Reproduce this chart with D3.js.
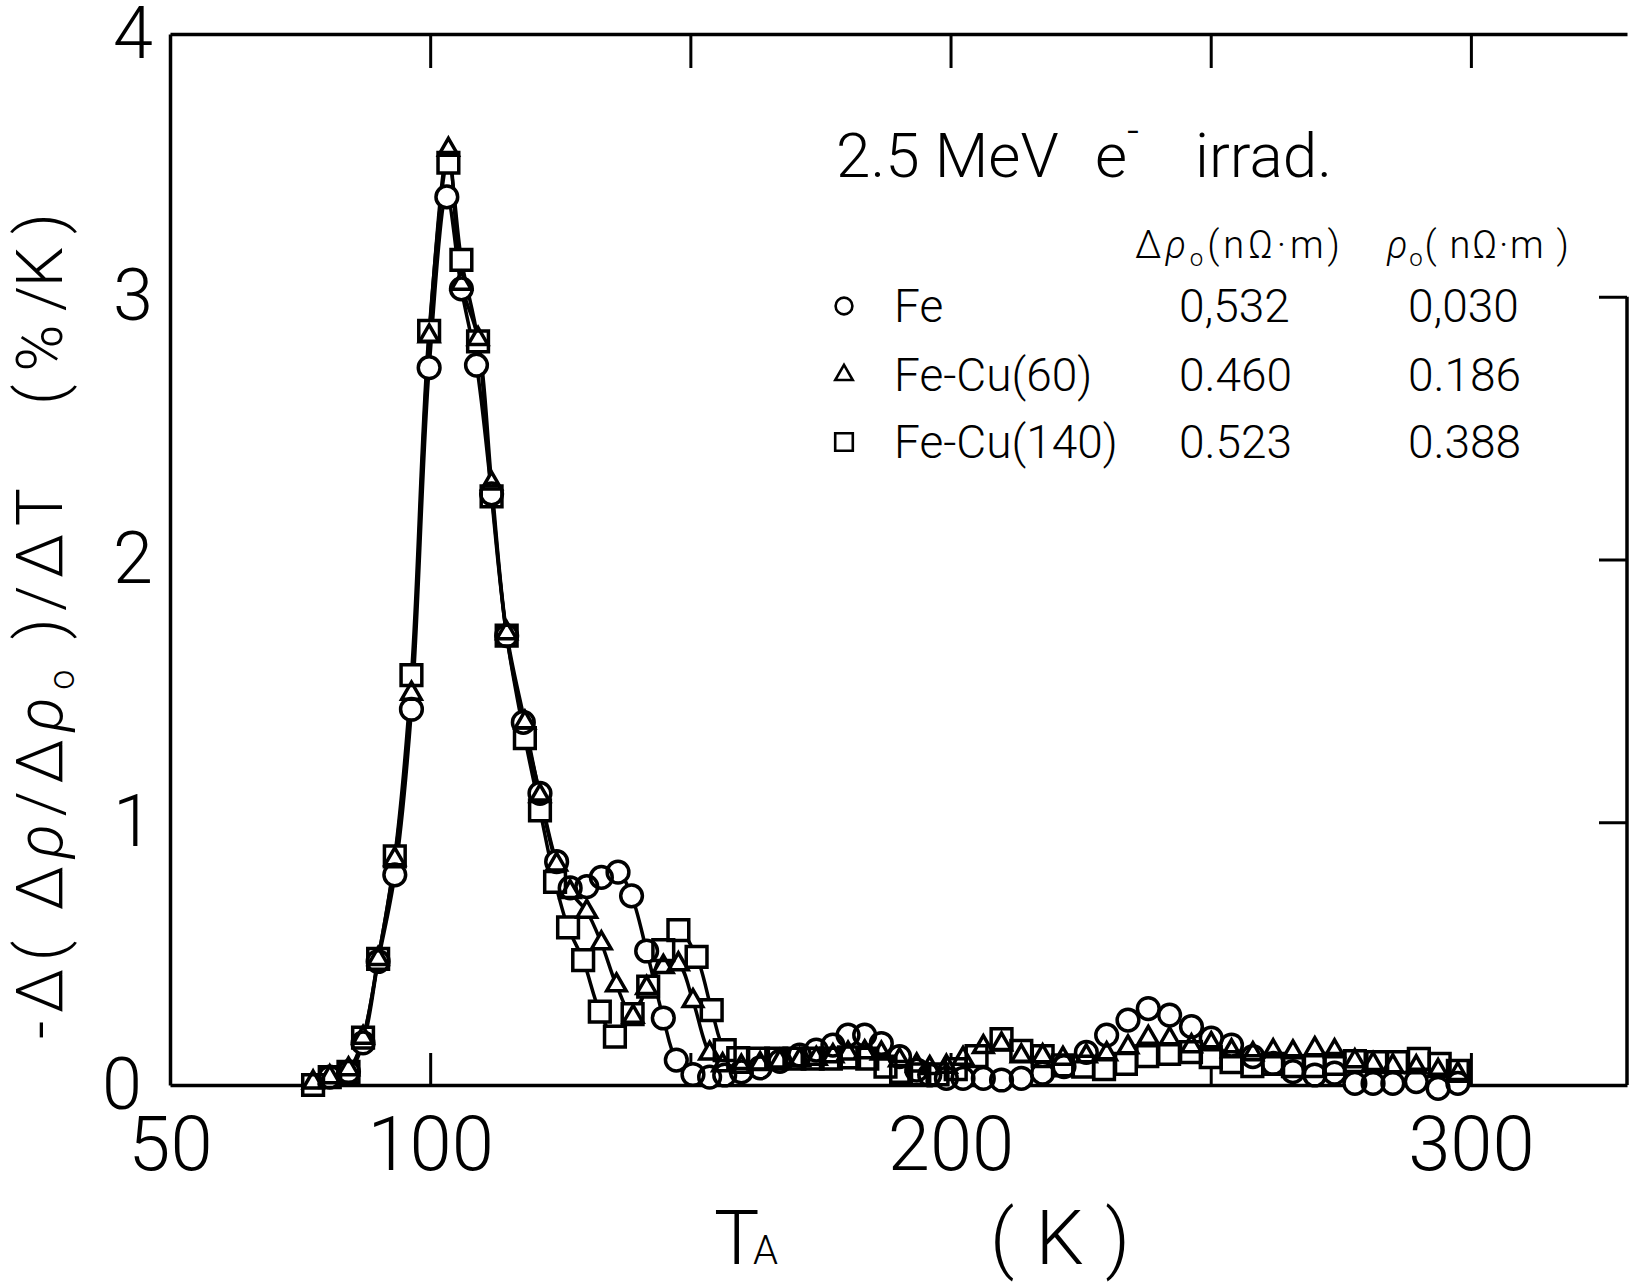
<!DOCTYPE html>
<html>
<head>
<meta charset="utf-8">
<script src="https://cdn.jsdelivr.net/npm/d3@7"></script>
<style>
  html, body { margin: 0; padding: 0; background: #fff; }
  svg { display: block; }
  text { font-family: Roboto, 'DejaVu Sans', sans-serif; font-weight: 300; fill: #000; }
</style>
</head>
<body>
<div id="chart"></div>
<script>
'use strict';

// values: annealing temperature T_A (K) and -d(dr/dr0)/dT (%/K)

/** Fe (circles) */
const feT = [80.7, 84.3, 87.1, 90.0, 93.2, 96.4, 99.8, 103.2, 106.0, 108.9, 111.8, 114.7, 117.9, 121.1, 124.3,
  126.9, 130.1, 132.9, 136.1, 138.7, 141.6, 144.8, 147.3, 150.5, 153.7, 156.6, 159.8, 163.4, 167.2, 171.0,
  174.2, 177.4, 180.3, 183.5, 186.7, 190.2, 193.5, 196.0, 199.2, 202.4, 206.3, 209.8, 213.6, 217.7, 221.8,
  226.1, 230.0, 234.1, 238.0, 242.1, 246.3, 250.1, 254.0, 258.1, 262.0, 265.8, 270.0, 273.8, 277.7, 281.2,
  285.0, 289.5, 293.7, 297.5];
const feV = [0.03, 0.05, 0.16, 0.47, 0.80, 1.43, 2.73, 3.38, 3.03, 2.74, 2.25, 1.71, 1.38, 1.11, 0.85,
  0.75, 0.755, 0.79, 0.81, 0.72, 0.51, 0.255, 0.095, 0.04, 0.03, 0.038, 0.05, 0.065, 0.09, 0.114,
  0.133, 0.152, 0.19, 0.19, 0.158, 0.108, 0.057, 0.038, 0.025, 0.025, 0.025, 0.019, 0.025, 0.045, 0.07,
  0.124, 0.19, 0.247, 0.291, 0.266, 0.222, 0.178, 0.152, 0.108, 0.082, 0.051, 0.038, 0.045, 0.006, 0.006,
  0.006, 0.013, -0.013, 0.006];

/** Fe-Cu(60) (triangles) */
const cu60T = [77.5, 80.7, 84.3, 87.1, 90.0, 93.2, 96.4, 99.8, 103.5, 106.0, 109.2, 111.8, 114.7, 118.2, 121.1,
  124.3, 126.9, 130.1, 132.9, 135.8, 139.0, 141.6, 144.8, 147.7, 150.5, 153.7, 156.2, 159.8, 163.4, 167.2,
  171.0, 174.2, 177.4, 180.3, 183.5, 186.7, 190.2, 193.5, 196.0, 199.2, 202.4, 206.3, 209.8, 213.6, 217.7,
  221.6, 226.1, 230.0, 234.1, 238.0, 242.1, 246.3, 250.1, 254.0, 258.1, 262.0, 265.8, 270.0, 273.8, 277.7,
  281.2, 285.0, 289.5, 293.7, 297.5];
const cu60V = [0.01, 0.03, 0.06, 0.18, 0.48, 0.86, 1.49, 2.85, 3.56, 3.05, 2.84, 2.29, 1.72, 1.38, 1.10,
  0.84, 0.735, 0.66, 0.54, 0.38, 0.26, 0.37, 0.45, 0.46, 0.32, 0.12, 0.076, 0.07, 0.08, 0.09,
  0.095, 0.10, 0.11, 0.12, 0.125, 0.12, 0.095, 0.075, 0.065, 0.07, 0.10, 0.145, 0.155, 0.11, 0.11,
  0.10, 0.11, 0.118, 0.144, 0.18, 0.175, 0.148, 0.156, 0.129, 0.118, 0.129, 0.125, 0.137, 0.129, 0.091,
  0.08, 0.072, 0.068, 0.054, 0.042];

/** Fe-Cu(140) (squares) */
const cu140T = [77.5, 80.7, 84.3, 87.1, 90.0, 93.2, 96.4, 99.8, 103.5, 106.0, 109.2, 111.8, 114.7, 118.2, 121.1,
  124.0, 126.5, 129.4, 132.6, 135.5, 138.9, 141.9, 144.8, 147.7, 151.2, 154.1, 156.6, 159.2, 163.0, 166.5,
  170.0, 173.5, 177.0, 180.5, 184.0, 187.5, 190.5, 194.0, 197.5, 201.0, 205.0, 209.8, 213.6, 217.7, 221.6,
  225.5, 229.5, 233.7, 237.8, 242.0, 246.2, 250.0, 254.0, 258.0, 262.0, 265.8, 270.0, 273.8, 277.7, 282.0,
  285.8, 290.0, 294.0, 297.5];
const cu140V = [0.00, 0.03, 0.05, 0.18, 0.48, 0.87, 1.56, 2.87, 3.51, 3.14, 2.83, 2.24, 1.71, 1.32, 1.045,
  0.773, 0.60, 0.475, 0.279, 0.184, 0.27, 0.374, 0.513, 0.589, 0.488, 0.285, 0.133, 0.102, 0.10, 0.10,
  0.10, 0.10, 0.10, 0.105, 0.10, 0.07, 0.05, 0.04, 0.04, 0.06, 0.11, 0.175, 0.13, 0.11, 0.075,
  0.07, 0.06, 0.08, 0.11, 0.118, 0.125, 0.106, 0.087, 0.072, 0.08, 0.072, 0.072, 0.08, 0.091, 0.087,
  0.087, 0.099, 0.08, 0.054];

/** axis ticks */
const xTicks = [50, 100, 150, 200, 250, 300];
const xTickLabels = ['50', '100', '', '200', '', '300'];
const yTicks = [0, 1, 2, 3, 4];

/** legend table */
const seriesNames = ['Fe', 'Fe-Cu(60)', 'Fe-Cu(140)'];
const deltaRho0 = ['0,532', '0.460', '0.523'];
const rho0 = ['0,030', '0.186', '0.388'];

// the smooth curves are only drawn through the recovery peaks
const curveEndT = 160;

const width = 1629;
const height = 1283;

const svg = d3.select('#chart')
  .append('svg')
    .attr('width', width)
    .attr('height', height);

const x = d3.scaleLinear().domain([50, 330]).range([170, 1627]);
const y = d3.scaleLinear().domain([0, 4]).range([1085, 34]);

// ---- axes / frame ----
const bottomAxis = svg.append('g')
  .attr('transform', `translate(0,${y(0)})`)
  .call(d3.axisBottom(x)
    .tickValues(xTicks)
    .tickFormat((d, i) => xTickLabels[i])
    .tickSizeInner(-32)
    .tickSizeOuter(0)
    .tickPadding(30));
bottomAxis.selectAll('text').style('font-size', '76px').attr('dy', '0.72em');

svg.append('g')
  .attr('transform', `translate(0,${y(4)})`)
  .call(d3.axisTop(x)
    .tickValues(xTicks.slice(1))
    .tickFormat('')
    .tickSizeInner(-34)
    .tickSizeOuter(0));

const leftAxis = svg.append('g')
  .attr('transform', `translate(${x(50)},0)`)
  .call(d3.axisLeft(y)
    .tickValues(yTicks)
    .tickFormat(d3.format('d'))
    .tickSizeInner(0)
    .tickSizeOuter(0)
    .tickPadding(17));
leftAxis.selectAll('text').style('font-size', '72px');
leftAxis.selectAll('.tick').filter(d => d === 0).select('text').attr('x', -28);

const rightAxis = svg.append('g')
  .attr('transform', `translate(${x(330)},0)`)
  .call(d3.axisRight(y)
    .tickValues([1, 2, 3])
    .tickFormat('')
    .tickSizeInner(-28)
    .tickSizeOuter(0));
rightAxis.select('.domain').attr('d', `M0,${y(3)}V${y(0)}`);

svg.selectAll('.domain').attr('stroke', '#000').attr('stroke-width', 3.5);
svg.selectAll('.tick line').attr('stroke', '#000').attr('stroke-width', 3);

// ---- data ----
const series = [
  { name: 'fe', T: feT, V: feV, shape: 'circle' },
  { name: 'cu60', T: cu60T, V: cu60V, shape: 'triangle' },
  { name: 'cu140', T: cu140T, V: cu140V, shape: 'square' }
];

const line = d3.line()
  .x(d => x(d[0]))
  .y(d => y(d[1]))
  .curve(d3.curveCatmullRom.alpha(0.5));

series.forEach(function (s) {
  const pts = s.T.map((t, i) => [t, s.V[i]]).filter(p => p[0] <= curveEndT);
  svg.append('path')
    .datum(pts)
    .attr('d', line)
    .attr('fill', 'none')
    .attr('stroke', '#000')
    .attr('stroke-width', 3.5);
});

/** path for a marker of the given shape */
function markerPath (shape, scale) {
  if (shape === 'circle') return d3.symbol(d3.symbolCircle, 370 * scale)();
  if (shape === 'square') return d3.symbol(d3.symbolSquare, 430 * scale)();
  return d3.symbol(d3.symbolTriangle, 165 * scale)();
}

// white knock-outs first so the curves do not run through the markers, then the outlines
['knock', 'outline'].forEach(function (pass) {
  series.forEach(function (s) {
    svg.append('g')
      .selectAll('path')
      .data(s.T.map((t, i) => [t, s.V[i]]))
      .join('path')
        .attr('transform', d => `translate(${x(d[0])},${y(d[1])})`)
        .attr('d', markerPath(s.shape, 1))
        .attr('fill', pass === 'knock' ? '#fff' : 'none')
        .attr('stroke', pass === 'knock' ? 'none' : '#000')
        .attr('stroke-width', 3.5);
  });
});

// ---- axis titles ----
const yTitle1 = svg.append('text')
  .attr('transform', 'translate(62,1039) rotate(-90)')
  .attr('textLength', 551)
  .attr('lengthAdjust', 'spacing')
  .style('font-size', '64px');
yTitle1.append('tspan').text('-Δ( Δ');
yTitle1.append('tspan').style('font-style', 'italic').text('ρ');
yTitle1.append('tspan').text('/Δ');
yTitle1.append('tspan').style('font-style', 'italic').text('ρ');
yTitle1.append('tspan').attr('dy', 12).style('font-size', '36px').text('o');
yTitle1.append('tspan').attr('dy', -12).text(' )/ΔT');

svg.append('text')
  .attr('transform', 'translate(62,405) rotate(-90)')
  .attr('textLength', 192)
  .attr('lengthAdjust', 'spacing')
  .style('font-size', '64px')
  .text('( % /K )');

svg.append('text')
  .attr('x', 714).attr('y', 1264)
  .style('font-size', '76px')
  .text('T');
svg.append('text')
  .attr('x', 753).attr('y', 1264)
  .style('font-size', '40px')
  .text('A');
svg.append('text')
  .attr('x', 990).attr('y', 1264)
  .attr('textLength', 140)
  .attr('lengthAdjust', 'spacing')
  .style('font-size', '76px')
  .text('( K )');

// ---- title and legend table ----
svg.append('text').attr('x', 836).attr('y', 177).style('font-size', '62px').text('2.5 MeV');
svg.append('text').attr('x', 1095).attr('y', 177).style('font-size', '62px').text('e');
svg.append('text').attr('x', 1127).attr('y', 145).style('font-size', '42px').text('-');
svg.append('text').attr('x', 1195).attr('y', 177).style('font-size', '62px').text('irrad.');

const h1 = svg.append('text')
  .attr('x', 1135).attr('y', 258)
  .attr('textLength', 205)
  .attr('lengthAdjust', 'spacing')
  .style('font-size', '38px');
h1.append('tspan').text('Δ');
h1.append('tspan').style('font-style', 'italic').text('ρ');
h1.append('tspan').attr('dy', 8).style('font-size', '24px').text('o');
h1.append('tspan').attr('dy', -8).text('(nΩ·m)');

const h2 = svg.append('text')
  .attr('x', 1387).attr('y', 258)
  .attr('textLength', 182)
  .attr('lengthAdjust', 'spacing')
  .style('font-size', '38px');
h2.append('tspan').style('font-style', 'italic').text('ρ');
h2.append('tspan').attr('dy', 8).style('font-size', '24px').text('o');
h2.append('tspan').attr('dy', -8).text('( nΩ·m )');

const rowY = [306, 375, 442];
const legendShapes = ['circle', 'triangle', 'square'];
const legendSize = [0.6, 0.8, 0.72];

seriesNames.forEach(function (name, i) {
  svg.append('path')
    .attr('transform', `translate(844,${rowY[i]})`)
    .attr('d', markerPath(legendShapes[i], legendSize[i]))
    .attr('fill', 'none')
    .attr('stroke', '#000')
    .attr('stroke-width', 2.6);
  svg.append('text').attr('x', 894).attr('y', rowY[i] + 16).style('font-size', '46px').text(name);
  svg.append('text').attr('x', 1179).attr('y', rowY[i] + 16).style('font-size', '46px').text(deltaRho0[i]);
  svg.append('text').attr('x', 1408).attr('y', rowY[i] + 16).style('font-size', '46px').text(rho0[i]);
});
</script>
</body>
</html>
